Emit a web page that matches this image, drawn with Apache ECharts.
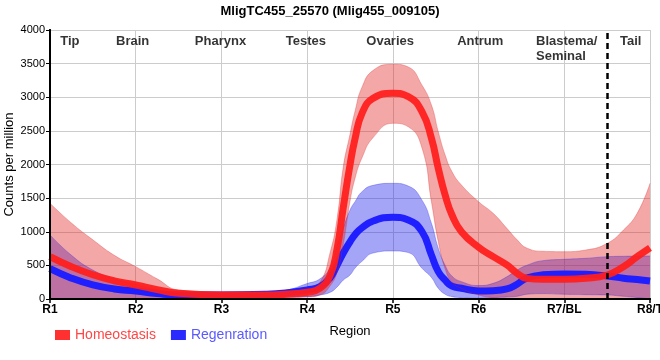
<!DOCTYPE html>
<html><head><meta charset="utf-8">
<script src="https://cdn.jsdelivr.net/npm/echarts@6/dist/echarts.min.js"></script>
<style>html,body{margin:0;padding:0;background:#fff}#c{width:660px;height:360px}</style>
</head><body><div id="c"></div>
<script>
const titleText = 'MligTC455_25570 (Mlig455_009105)';
const categories = ['R1','R2','R3','R4','R5','R6','R7/BL','R8/T'];
const regionNames = ['Tip','Brain','Pharynx','Testes','Ovaries','Antrum','Blastema/\nSeminal','Tail'];
const regionLabelX = [0.12,0.77,1.69,2.75,3.69,4.75,5.67,6.65];
const tailBoundary = 6.5;

const xPos = [0,0.25,0.5,0.75,1,1.25,1.5,2,2.5,2.75,3,3.15,3.27,3.35,3.42,3.5,3.56,3.64,3.77,4,4.18,4.34,4.45,4.53,4.61,4.69,4.8,5,5.17,5.33,5.45,5.56,5.75,6,6.25,6.5,6.69,6.85,7];

const homeoMean  = [630,480,360,270,208,140,85,60,60,72,100,159,357,754,1349,1993,2390,2761,2984,3058,3008,2785,2390,1943,1546,1249,1001,770,630,506,382,307,292,292,307,357,481,629,760];
const homeoUpper = [1423,1130,880,650,481,300,134,100,100,110,140,250,700,1200,1950,2450,2800,3150,3400,3490,3450,3180,2885,2488,2141,1893,1695,1447,1274,1051,880,760,710,704,729,828,1026,1274,1720];
const homeoLower = [0,0,0,0,0,0,10,20,20,25,30,60,200,400,800,1450,1800,2100,2400,2612,2560,2245,1447,852,450,250,159,60,20,0,0,0,0,0,0,0,0,0,0];

const regenMean  = [450,310,210,150,119,80,60,60,70,90,134,183,320,505,680,850,960,1060,1160,1215,1175,1001,654,406,280,190,159,120,124,150,220,310,360,372,367,342,310,290,268];
const regenUpper = [952,650,430,300,220,140,100,90,100,130,230,300,470,800,1050,1323,1450,1596,1690,1720,1680,1470,1125,754,500,340,258,200,233,330,430,500,570,590,605,629,635,638,640];
const regenLower = [0,0,0,0,0,0,0,10,20,25,35,60,100,180,280,357,461,560,684,714,690,456,320,159,70,35,20,10,20,30,40,70,80,70,65,60,40,20,0];

const FONT = '"Liberation Sans", Arial, sans-serif';
const SM = 0.5;

function pts(arr){ return xPos.map((x,i)=>[x, arr[i]]); }
// value first so that stacking acts on the value dimension
function ptsYX(arr){ return xPos.map((x,i)=>[arr[i], x]); }
function diffYX(u,l){ return xPos.map((x,i)=>[u[i]-l[i], x]); }

function bandSeries(stack, lower, upper, fill, edge){
  const common = {type:'line', stack, smooth:SM, symbol:'none', silent:true,
    dimensions:['val','pos'], encode:{x:'pos', y:'val'}, emphasis:{disabled:true}};
  return [
    Object.assign({}, common, {data: ptsYX(lower), lineStyle:{width:1,color:edge}}),
    Object.assign({}, common, {data: diffYX(upper,lower), lineStyle:{width:1,color:edge},
      areaStyle:{color:fill, opacity:1}})
  ];
}

const chart = echarts.init(document.getElementById('c'), null, {renderer:'canvas'});
chart.setOption({
  animation:false,
  backgroundColor:'#fff',
  textStyle:{fontFamily:FONT},
  title:{text:titleText, left:'center', top:0,
    textStyle:{fontSize:13, fontWeight:'bold', color:'#000', fontFamily:FONT}},
  legend:{
    left:50, top:323, icon:'rect', itemWidth:15, itemHeight:10, itemGap:15,
    textStyle:{fontSize:14, fontFamily:FONT},
    data:[
      {name:'Homeostasis', textStyle:{color:'#ff4646'}},
      {name:'Regenration', textStyle:{color:'#5a5aff'}}
    ]
  },
  grid:{left:50, right:10, top:30, bottom:61, containLabel:false, outerBoundsMode:'none'},
  xAxis:[{
    type:'value', min:0, max:7, interval:1,
    name:'Region', nameLocation:'middle', nameGap:26, nameMoveOverlap:false,
    nameTextStyle:{fontSize:13, color:'#000', fontFamily:FONT},
    axisLine:{show:true, lineStyle:{color:'#000', width:2}},
    axisTick:{show:true, length:4, lineStyle:{color:'#000', width:1.5}},
    axisLabel:{formatter:v=>categories[v], fontSize:12, fontWeight:'bold', color:'#000', margin:5, fontFamily:FONT},
    splitLine:{show:true, lineStyle:{color:'#cccccc', width:1}}
  },{
    type:'value', min:0, max:7, position:'top', z:10,
    axisLine:{show:true, lineStyle:{color:'#000', width:2}},
    axisTick:{show:false}, axisLabel:{show:false}, splitLine:{show:false}
  }],
  yAxis:[{
    type:'value', min:0, max:4000, interval:500,
    name:'Counts per million', nameLocation:'middle', nameGap:34, nameMoveOverlap:false,
    nameTextStyle:{fontSize:13, color:'#000', fontFamily:FONT},
    axisLine:{show:true, lineStyle:{color:'#000', width:2}},
    axisTick:{show:true, length:4, lineStyle:{color:'#000', width:1}},
    axisLabel:{fontSize:11, color:'#000', margin:5, fontFamily:FONT, formatter:v=>String(v)},
    splitLine:{show:true, lineStyle:{color:'#cccccc', width:1}}
  },{
    type:'value', min:0, max:4000, position:'right', z:10,
    axisLine:{show:true, lineStyle:{color:'#000', width:2}},
    axisTick:{show:false}, axisLabel:{show:false}, splitLine:{show:false}
  }],
  series:[
    ...bandSeries('regen', regenLower, regenUpper, 'rgba(30,30,235,0.40)', 'rgba(30,30,235,0.30)'),
    {name:'Regenration', type:'line', data:pts(regenMean), smooth:SM, symbol:'none',
     itemStyle:{color:'#2a2aff'}, lineStyle:{width:7, color:'#1f1fff'}, silent:true},
    ...bandSeries('homeo', homeoLower, homeoUpper, 'rgba(225,35,35,0.40)', 'rgba(225,35,35,0.30)'),
    {name:'Homeostasis', type:'line', data:pts(homeoMean), smooth:SM, symbol:'none',
     itemStyle:{color:'#ff3030'}, lineStyle:{width:7, color:'#ff1f1f', opacity:0.95}, silent:true,
     markLine:{silent:true, symbol:['none','none'], label:{show:false},
       lineStyle:{color:'#000', width:2.5, type:[6,4]},
       data:[{xAxis:tailBoundary}]}},
    {type:'scatter', clip:false, symbolSize:0, silent:true, z:20,
     data: regionLabelX.map((x,i)=>[x, 4000, regionNames[i]]),
     label:{show:true, position:[0,4], align:'left', verticalAlign:'top',
       formatter:p=>p.data[2], fontSize:13, fontWeight:'bold', color:'#000', lineHeight:15, fontFamily:FONT}}
  ]
});
</script></body></html>
